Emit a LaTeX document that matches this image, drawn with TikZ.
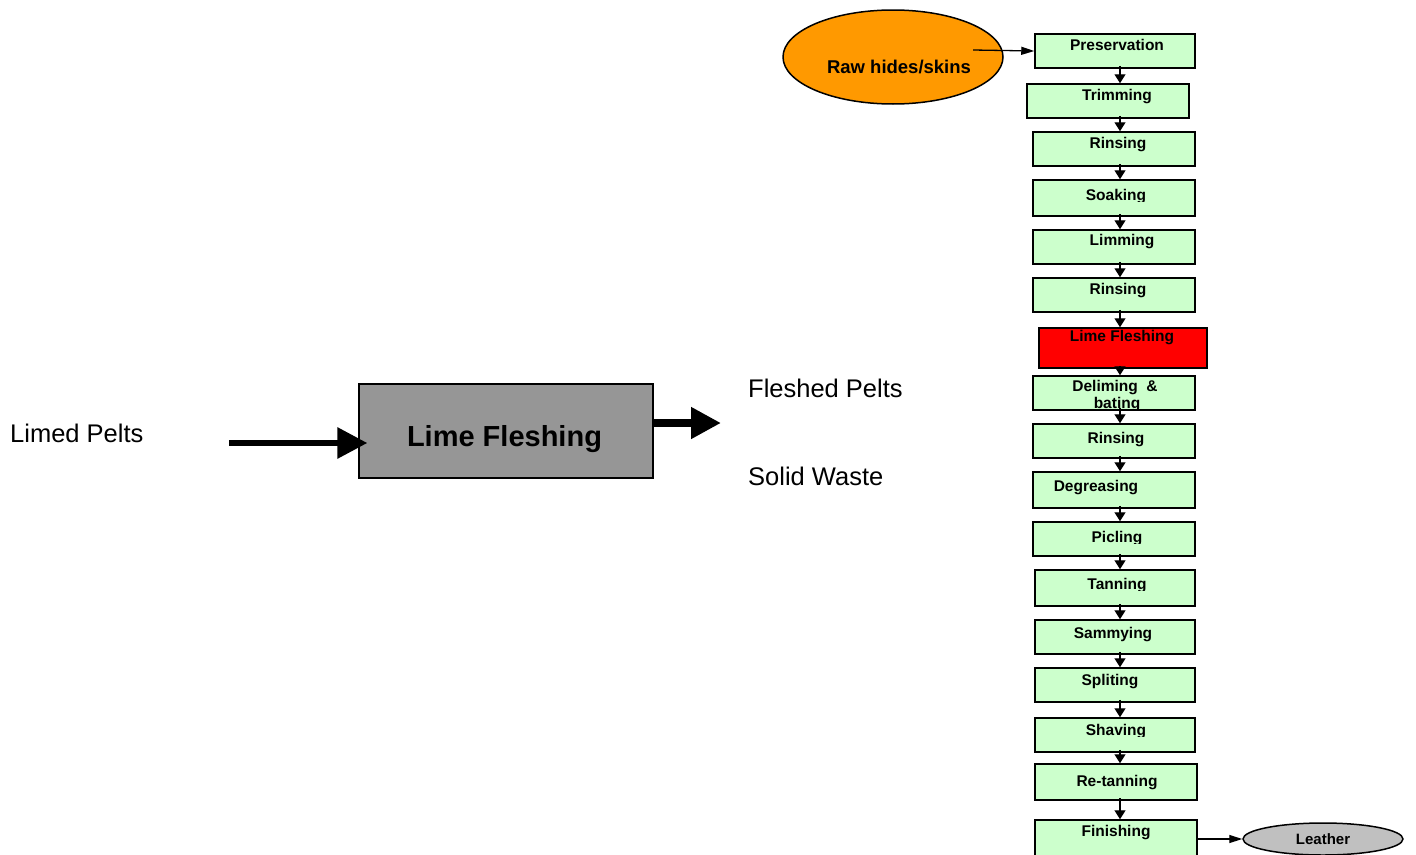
\documentclass[tikz,border=0pt]{standalone}
\usepackage{fontspec}
\setmainfont{Liberation Sans}
\usetikzlibrary{arrows.meta,shapes.geometric,calc}

\definecolor{stepgreen}{HTML}{CCFFCC}
\definecolor{stepred}{HTML}{FF0000}
\definecolor{rawhide}{HTML}{FF9900}
\definecolor{leathergray}{HTML}{C0C0C0}
\definecolor{unitgray}{HTML}{969696}

\tikzset{
  procbox/.style={draw=black, line width=1.5pt, fill=stepgreen, rectangle,
    inner sep=0pt, minimum width=162pt, minimum height=34pt},
  proclabel/.style={anchor=base, inner sep=0pt,
    font=\fontsize{15.5}{18}\selectfont\bfseries},
  flow/.style={line width=1.3pt, -{Triangle[length=9pt,width=11pt]}},
  thinflow/.style={line width=1.3pt, -{Triangle[length=13pt,width=8pt]}},
  bigflow/.style={-{Triangle[length=30pt,width=30pt]}},
  plainlabel/.style={anchor=base west, inner sep=0pt,
    font=\fontsize{25.5}{30}\selectfont},
}

\begin{document}
\begin{tikzpicture}[x=1pt,y=-1pt]
\useasboundingbox (0,0) rectangle (1416,854);

% ---- single unit operation ----
\node[draw=black, line width=1.3pt, fill=unitgray, inner sep=0pt,
      minimum width=294pt, minimum height=94pt] (fl) at (506,431) {};
\node[anchor=base, inner sep=0pt, font=\fontsize{29}{34}\selectfont\bfseries]
      (fltext) at (504.5,446) {Lime Fleshing};

\node[plainlabel] (limed) at (10,442) {Limed Pelts};
\node[plainlabel] (fleshed) at (748,397) {Fleshed Pelts};
\node[plainlabel] (waste) at (748,485) {Solid Waste};

\coordinate (inA) at (229,443);
\coordinate (outA) at (721,423);
\draw[bigflow, line width=6pt] (inA) -- ($(fl.west |- inA)+(9,0)$);
\draw[bigflow, line width=8pt] (fl.east |- outA) -- (outA);

% ---- process chain ----
\node[draw=black, line width=1.5pt, fill=rawhide, ellipse, inner sep=0pt,
      minimum width=220pt, minimum height=94pt] (raw) at (893,57) {};
\node[anchor=base, inner sep=0pt, font=\fontsize{18.5}{22}\selectfont\bfseries]
      at (899,73) {Raw hides/skins};

\node[procbox, minimum width=160pt] (p1) at (1115,51) {};
\node[procbox] (p2) at (1108,101) {};
\node[procbox] (p3) at (1114,149) {};
\node[procbox, minimum height=36pt] (p4) at (1114,198) {};
\node[procbox] (p5) at (1114,247) {};
\node[procbox] (p6) at (1114,295) {};
\node[procbox, fill=stepred, minimum width=168pt, minimum height=40pt] (p7) at (1123,348) {};
\node[procbox] (p8) at (1114,393) {};
\node[procbox] (p9) at (1114,441) {};
\node[procbox, minimum height=36pt] (p10) at (1114,490) {};
\node[procbox] (p11) at (1114,539) {};
\node[procbox, minimum width=160pt, minimum height=36pt] (p12) at (1115,588) {};
\node[procbox, minimum width=160pt] (p13) at (1115,637) {};
\node[procbox, minimum width=160pt] (p14) at (1115,685) {};
\node[procbox, minimum width=160pt] (p15) at (1115,735) {};
\node[procbox, minimum height=36pt] (p16) at (1116,782) {};
\node[procbox, minimum height=50pt] (p17) at (1116,845) {};

\node[draw=black, line width=1.5pt, fill=leathergray, ellipse, inner sep=0pt,
      minimum width=160pt, minimum height=32pt,
      font=\fontsize{15}{18}\selectfont\bfseries] (leather) at (1323,839) {Leather};

% step names (text frames cut off at their lower edge)
\node[proclabel] at (1117,50) {Preservation};
\node[proclabel] at (1117,100) {Trimming};
\node[proclabel] at (1118,148) {Rinsing};
\begin{scope}
  \clip (1030,180) rectangle (1200,201);
  \node[proclabel] at (1116,200) {Soaking};
\end{scope}
\node[proclabel] at (1122,245) {Limming};
\node[proclabel] at (1118,294) {Rinsing};
\node[proclabel] at (1122,341) {Lime Fleshing};
\node[proclabel] at (1115,391) {Deliming~~\&};
\begin{scope}
  \clip (1030,392) rectangle (1200,409.5);
  \node[proclabel] at (1117,408) {bating};
\end{scope}
\node[proclabel] at (1116,443) {Rinsing};
\node[proclabel] at (1096,491) {Degreasing};
\begin{scope}
  \clip (1030,522) rectangle (1200,543);
  \node[proclabel] at (1117,542) {Picling};
\end{scope}
\begin{scope}
  \clip (1030,570) rectangle (1200,590.5);
  \node[proclabel] at (1117,589) {Tanning};
\end{scope}
\node[proclabel] at (1113,638) {Sammying};
\node[proclabel] at (1110,685) {Spliting};
\begin{scope}
  \clip (1030,718) rectangle (1200,736.5);
  \node[proclabel] at (1116,735) {Shaving};
\end{scope}
\node[proclabel] at (1117,786) {Re-tanning};
\node[proclabel] at (1116,836) {Finishing};

% connectors
\coordinate (col) at (1120,0);
\draw[thinflow] ($(raw.center)+(80,-7)$) -- (p1.west);
\foreach \a/\b in {p1/p2,p2/p3,p3/p4,p4/p5,p5/p6,p6/p7,p7/p8,p8/p9,
                   p9/p10,p10/p11,p11/p12,p12/p13,p13/p14,p14/p15,p15/p16,p16/p17}{
  \draw[flow] ($(\a.south -| col)+(0,-3)$) -- (\b.north -| col);
}
\draw[thinflow] (leather.west -| p17.east) -- (leather.west);
\end{tikzpicture}
\end{document}
